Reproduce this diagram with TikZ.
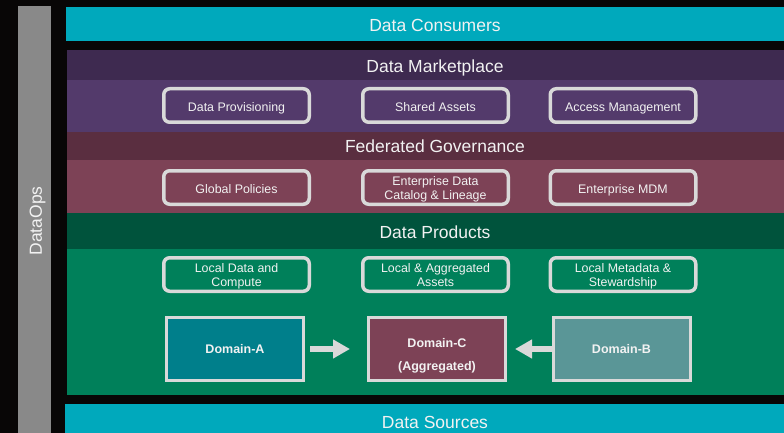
\documentclass[tikz,border=0pt]{standalone}
\usepackage{fontspec}
\setmainfont{Liberation Sans}
\usetikzlibrary{arrows.meta,positioning}
\definecolor{bgblack}{HTML}{080606}
\definecolor{opsgray}{HTML}{898989}
\definecolor{layercyan}{HTML}{00A9BC}
\definecolor{mkthead}{HTML}{3E2A50}
\definecolor{mktbody}{HTML}{533A6B}
\definecolor{govhead}{HTML}{5A2E40}
\definecolor{govbody}{HTML}{7D4256}
\definecolor{prodhead}{HTML}{00533C}
\definecolor{prodbody}{HTML}{00805A}
\definecolor{domteal}{HTML}{007F8B}
\definecolor{domgrey}{HTML}{5A9697}
\definecolor{boxgray}{HTML}{D9D9D9}
\definecolor{txtwhite}{HTML}{F2F2F2}

\begin{document}
\begin{tikzpicture}[x=1pt,y=-1pt,
    band/.style={anchor=north west,inner sep=0pt,outer sep=0pt},
    title/.style={text=txtwhite,inner sep=0pt,text height=12.5pt,text depth=0pt,font=\fontsize{17.5}{20}\selectfont},
    item/.style={draw=boxgray,line width=3.5pt,rounded corners=6pt,minimum width=145.5pt,minimum height=33.5pt,
        inner sep=0pt,align=center,text=txtwhite,text height=11.5pt,text depth=0pt,font=\fontsize{12.4}{14.5}\selectfont},
    tworow/.style={text height=24.5pt},
    domainbox/.style={draw=boxgray,line width=3pt,minimum width=137pt,minimum height=63pt,
        inner sep=0pt,align=center,text=txtwhite,font=\bfseries\fontsize{12.5}{23}\selectfont},
    blockarrow/.style={draw=boxgray,line width=6pt,-{Triangle[length=17pt,width=18pt]}}]
        \fill[bgblack] (0,0) rectangle (784,433);
        \useasboundingbox (0,0) rectangle (784,433);

        \node[band,fill=opsgray,minimum width=33pt,minimum height=427pt] (opsbar) at (18,6) {};
        \node[title,rotate=90] (opstitle) at (35.5,221) {DataOps};

        \node[band,fill=layercyan,minimum width=718pt,minimum height=34pt] (consumers) at (66,7) {};
        \node[title] (constitle) at (435,25) {Data Consumers};

        \node[band,fill=mkthead,minimum width=717pt,minimum height=30pt] (mkthdr) at (67,50) {};
        \node[band,fill=mktbody,minimum width=717pt,minimum height=52pt] (mktbox) at (67,80) {};
        \node[title] (mkttitle) at (435,66) {Data Marketplace};
        \node[item] (provision) at (236.5,105.5) {Data Provisioning};
        \node[item] (shared) at (435.5,105.5) {Shared Assets};
        \node[item] (access) at (623,105.5) {Access Management};

        \node[band,fill=govhead,minimum width=717pt,minimum height=28pt] (govhdr) at (67,132) {};
        \node[band,fill=govbody,minimum width=717pt,minimum height=53pt] (govbox) at (67,160) {};
        \node[title] (govtitle) at (435,146.7) {Federated Governance};
        \node[item] (policies) at (236.5,187.5) {Global Policies};
        \node[item,tworow] (catalog) at (435.5,187.5) {Enterprise Data\\Catalog \& Lineage};
        \node[item] (mdm) at (623,187.5) {Enterprise MDM};

        \node[band,fill=prodhead,minimum width=717pt,minimum height=36pt] (prodhdr) at (67,213) {};
        \node[band,fill=prodbody,minimum width=717pt,minimum height=146pt] (prodbox) at (67,249) {};
        \node[title] (prodtitle) at (435,232.3) {Data Products};
        \node[item,tworow] (compute) at (236.5,274.5) {Local Data and\\Compute};
        \node[item,tworow] (assets) at (435.5,274.5) {Local \& Aggregated\\Assets};
        \node[item,tworow] (steward) at (623,274.5) {Local Metadata \&\\Stewardship};

        \node[domainbox,fill=domteal] (domA) at (235,349) {Domain-A};
        \node[domainbox,fill=govbody,text height=43pt,text depth=0pt] (domC) at (437,349) {Domain-C\\(Aggregated)};
        \node[domainbox,fill=domgrey] (domB) at (621.5,349) {Domain-B};

        \draw[blockarrow,shorten <=5pt,shorten >=17pt] (domA.east) -- (domC.west);
        \draw[blockarrow,shorten >=8pt] (domB.west) -- (domC.east);

        \node[band,fill=layercyan,minimum width=719pt,minimum height=30pt] (sources) at (65,404) {};
        \node[title] (srctitle) at (435,422.3) {Data Sources};
      \end{tikzpicture}
\end{document}
